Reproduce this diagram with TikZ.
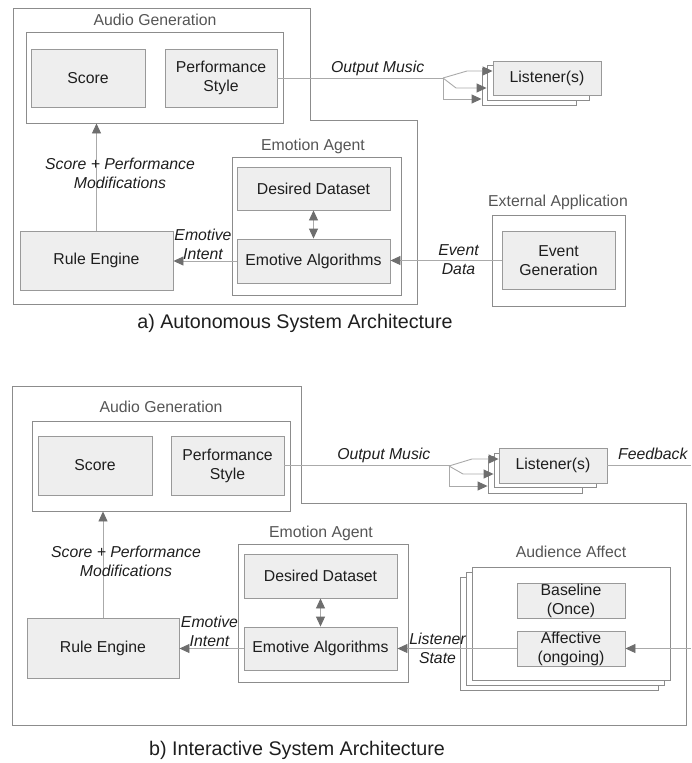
\documentclass[tikz,border=0pt]{standalone}
\usepackage{fontspec}
\setmainfont{Liberation Sans}
\usetikzlibrary{arrows.meta}
\definecolor{boxgray}{HTML}{999999}
\definecolor{boxfill}{HTML}{EEEEEE}
\definecolor{grpgray}{HTML}{8C8C8C}
\definecolor{linegray}{HTML}{AAAAAA}
\definecolor{tipgray}{HTML}{6E6E6E}
\definecolor{txt}{HTML}{1E1E1E}
\definecolor{ttlgray}{HTML}{555555}
\newcommand\myfont{\fontsize{15.8}{19}\selectfont}
\newcommand\capfont{\fontsize{19.7}{23}\selectfont}
\tikzset{
  box/.style={draw=boxgray, fill=boxfill, line width=0.9pt, inner sep=0pt, text=txt, font=\myfont, align=center},
  grp/.style={draw=grpgray, fill=white, line width=0.9pt, inner sep=0pt},
  ttl/.style={text=ttlgray, font=\myfont, inner sep=0pt},
  lbl/.style={text=txt, font=\myfont\itshape, align=center, inner sep=0pt},
  capt/.style={text=txt, font=\capfont, inner sep=0pt},
  frame/.style={draw=grpgray, line width=0.9pt},
  conn/.style={draw=linegray, line width=0.9pt},
  arr/.style={conn, -{Triangle[length=10pt,width=9pt,color=tipgray]}},
  darr/.style={conn, {Triangle[length=10pt,width=9pt,color=tipgray]}-{Triangle[length=10pt,width=9pt,color=tipgray]}},
}
\begin{document}
\begin{tikzpicture}[x=1pt,y=-1pt]
\useasboundingbox (0,0) rectangle (691,763);
% ================= a) =================
\draw[frame] (13,8) -- (310,8) -- (310,120) -- (417,120) -- (417,304) -- (13,304) -- cycle;
\node[grp, minimum width=257, minimum height=91] (agA) at (154.5,77.5) {};
\node[ttl] (agAt) at (155,20) {Audio Generation};
\node[box, minimum width=114, minimum height=58] (scoreA) at (88,78) {Score};
\node[box, minimum width=112, minimum height=58] (perfA) at (221,78) {Performance\\Style};
\node[box, minimum width=153, minimum height=59] (ruleA) at (96.5,260.5) {Rule Engine};
\node[grp, minimum width=169, minimum height=138] (eaA) at (316.5,226) {};
\node[ttl] (eaAt) at (313,146) {Emotion Agent};
\node[box, minimum width=153, minimum height=43] (ddA) at (313.5,188.5) {Desired Dataset};
\node[box, minimum width=153, minimum height=44] (algA) at (313.5,261) {Emotive Algorithms};
\node[grp, minimum width=133, minimum height=91] (extA) at (558.5,260.5) {};
\node[ttl] (extAt) at (558,202) {External Application};
\node[box, minimum width=113, minimum height=58] (evA) at (558.5,260.5) {Event\\Generation};
% listeners a
\node[grp, minimum width=94, minimum height=37] (lisA3) at (529,86.5) {};
\node[grp, minimum width=102, minimum height=35] (lisA2) at (538,82.5) {};
\node[box, minimum width=108, minimum height=34] (lisA1) at (547,78) {Listener(s)};
% connectors a
\draw[arr] (ruleA.north) -- (ruleA.north |- agA.south);
\node[lbl] (lblSA) at (120,173.5) {Score + Performance\\Modifications};
\draw[darr] (ddA.south) -- (algA.north);
\draw[arr] (algA.west) -- (algA.west -| ruleA.east);
\node[lbl] (lblEA) at (203,244) {Emotive\\Intent};
\draw[arr] (evA.west) -- (evA.west -| algA.east);
\node[lbl] (lblDA) at (458.5,259.5) {Event\\Data};
\coordinate (brA) at (443,78);
\coordinate (kA1) at (467,71);
\coordinate (kA2) at (456,88);
\coordinate (kA3) at (443,99);
\draw[conn] (perfA.east) -- (brA);
\node[lbl] (lblOA) at (377.7,68) {Output Music};
\draw[arr] (brA) -- (kA1) -- (kA1 -| lisA1.west);
\draw[arr] (brA) -- (kA2) -- (kA2 -| lisA2.west);
\draw[arr] (brA) -- (kA3) -- (kA3 -| lisA3.west);
\node[capt] (capA) at (295,323) {a) Autonomous System Architecture};
% ================= b) =================
\draw[frame] (12,386) -- (301,386) -- (301,503) -- (686,503) -- (686,725) -- (12,725) -- cycle;
\node[grp, minimum width=258, minimum height=90] (agB) at (161,466) {};
\node[ttl] (agBt) at (161,407) {Audio Generation};
\node[box, minimum width=114, minimum height=59] (scoreB) at (95,465.5) {Score};
\node[box, minimum width=113, minimum height=59] (perfB) at (227.5,465.5) {Performance\\Style};
\node[box, minimum width=152, minimum height=60] (ruleB) at (103,648) {Rule Engine};
\node[grp, minimum width=170, minimum height=138] (eaB) at (323,613) {};
\node[ttl] (eaBt) at (321,533) {Emotion Agent};
\node[box, minimum width=153, minimum height=44] (ddB) at (320.5,576) {Desired Dataset};
\node[box, minimum width=153, minimum height=43] (algB) at (320.5,648.5) {Emotive Algorithms};
% listeners b
\node[grp, minimum width=94, minimum height=37] (lisB3) at (535,474.5) {};
\node[grp, minimum width=102, minimum height=34] (lisB2) at (545,470) {};
\node[box, minimum width=108, minimum height=35] (lisB1) at (553,465.5) {Listener(s)};
% audience affect
\node[ttl] (audt) at (571,552) {Audience Affect};
\node[grp, minimum width=198, minimum height=113] (audB3) at (559,633.5) {};
\node[grp, minimum width=198, minimum height=113] (audB2) at (565,628.5) {};
\node[grp, minimum width=198, minimum height=113] (audB1) at (571,623.5) {};
\node[box, minimum width=108, minimum height=35] (baseB) at (571,600.5) {Baseline\\(Once)};
\node[box, minimum width=108, minimum height=35] (affB) at (571,648.5) {Affective\\(ongoing)};
% connectors b
\draw[arr] (ruleB.north) -- (ruleB.north |- agB.south);
\node[lbl] (lblSB) at (126,561) {Score + Performance\\Modifications};
\draw[darr] (ddB.south) -- (algB.north);
\draw[arr] (algB.west) -- (algB.west -| ruleB.east);
\node[lbl] (lblEB) at (209.5,631.5) {Emotive\\Intent};
\draw[arr] (affB.west) -- (affB.west -| algB.east);
\node[lbl] (lblLB) at (437.5,648.8) {Listener\\State};
\coordinate (inB) at (691,648.5);
\draw[arr] (inB) -- (affB.east);
\coordinate (brB) at (449,466);
\coordinate (kB1) at (472,459);
\coordinate (kB2) at (463,474);
\coordinate (kB3) at (449,486);
\draw[conn] (perfB.east) -- (perfB.east -| brB) -- (brB);
\node[lbl] (lblOB) at (383.8,455.7) {Output Music};
\draw[arr] (brB) -- (kB1) -- (kB1 -| lisB1.west);
\draw[arr] (brB) -- (kB2) -- (kB2 -| lisB2.west);
\draw[arr] (brB) -- (kB3) -- (kB3 -| lisB3.west);
\coordinate (fbEnd) at (691,465.5);
\draw[conn] (lisB1.east) -- (fbEnd);
\node[lbl] (lblFB) at (652.8,454.3) {Feedback};
\node[capt] (capB) at (297,750) {b) Interactive System Architecture};
\end{tikzpicture}
\end{document}
